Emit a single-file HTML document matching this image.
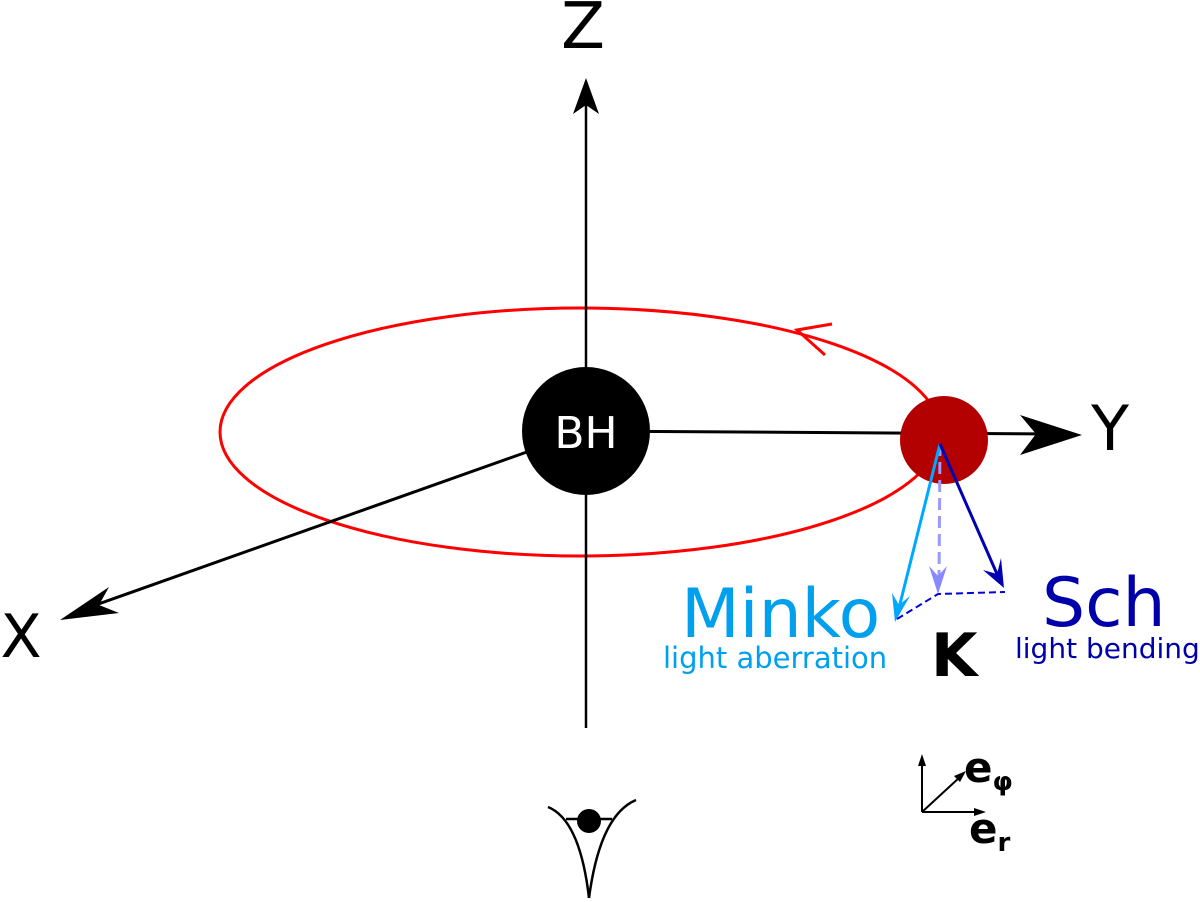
<!DOCTYPE html>
<html><head><meta charset="utf-8"><style>body{margin:0;background:#fff}svg{display:block}</style></head>
<body>
<svg width="1200" height="902" viewBox="0 0 1200 902" xmlns="http://www.w3.org/2000/svg" font-family="'DejaVu Sans','Liberation Sans',sans-serif">
<ellipse cx="580" cy="432" rx="360" ry="124" fill="none" stroke="#ff0000" stroke-width="3"/>
<polyline points="832,324 797,330 825,355" fill="none" stroke="#ff0000" stroke-width="3"/>
<line x1="586" y1="100" x2="586" y2="728" stroke="#000" stroke-width="2.5"/>
<polygon points="586,78 573,114 586,105 599,114" fill="#000"/>
<line x1="586" y1="431" x2="1055" y2="434" stroke="#000" stroke-width="3"/>
<polygon points="1082,435 1020,415 1036,434 1020,455" fill="#000"/>
<line x1="586" y1="431" x2="90" y2="607" stroke="#000" stroke-width="3"/>
<polygon points="60,620 109,587 99,605 119,613" fill="#000"/>
<circle cx="586" cy="431" r="64" fill="#000"/>
<text x="586" y="448" font-size="44" fill="#fff" text-anchor="middle">BH</text>
<circle cx="944" cy="440" r="44" fill="#b30000"/>
<text x="583" y="48" font-size="64" text-anchor="middle">Z</text>
<text x="1110" y="450" font-size="62" text-anchor="middle">Y</text>
<text x="21" y="657" font-size="60" text-anchor="middle">X</text>
<line x1="940" y1="444" x2="939" y2="580" stroke="#9999ff" stroke-width="3" stroke-dasharray="12,6"/>
<polygon points="938,594 929,566 938,576 947,566" fill="#8888ff"/>
<line x1="940" y1="444" x2="899" y2="608" stroke="#00a8ff" stroke-width="3"/>
<polygon points="895,622 892,593 899,605 910,596" fill="#00a8ff"/>
<line x1="940" y1="444" x2="997" y2="574" stroke="#0000b0" stroke-width="3"/>
<polygon points="1004,588 983,570 997,574 1001,558" fill="#0000b0"/>
<polyline points="897,619 938,594 1005,592" fill="none" stroke="#0000dd" stroke-width="2" stroke-dasharray="7,4"/>
<text x="681" y="637" font-size="68" fill="#00a0ee">Minko</text>
<text x="663" y="668" font-size="29" fill="#00a0ee">light aberration</text>
<text x="931" y="676" font-size="60" font-weight="bold" fill="#000">K</text>
<text x="1042" y="626" font-size="68" fill="#0000aa">Sch</text>
<text x="1015" y="658" font-size="28" fill="#0000aa">light bending</text>
<g fill="none" stroke="#000" stroke-width="2.5">
<path d="M548,807 Q580,820 589,898"/><path d="M636,800 Q600,815 589,898"/>
<line x1="566" y1="819" x2="612" y2="819"/>
</g>
<circle cx="589" cy="821" r="12" fill="#000"/>
<g stroke="#000" stroke-width="2">
<line x1="922" y1="812" x2="922" y2="762"/><line x1="922" y1="812" x2="960" y2="777"/><line x1="922" y1="812" x2="978" y2="812"/>
</g>
<polygon points="922,754 918,766 926,766" fill="#000"/>
<polygon points="966,771 954,776 960,782" fill="#000"/>
<polygon points="986,812 974,808 974,816" fill="#000"/>
<text x="964" y="782" font-size="42" font-weight="bold">e<tspan font-size="26" dy="8">φ</tspan></text>
<text x="969" y="843" font-size="42" font-weight="bold">e<tspan font-size="26" dy="8">r</tspan></text>
</svg>
</body></html>
